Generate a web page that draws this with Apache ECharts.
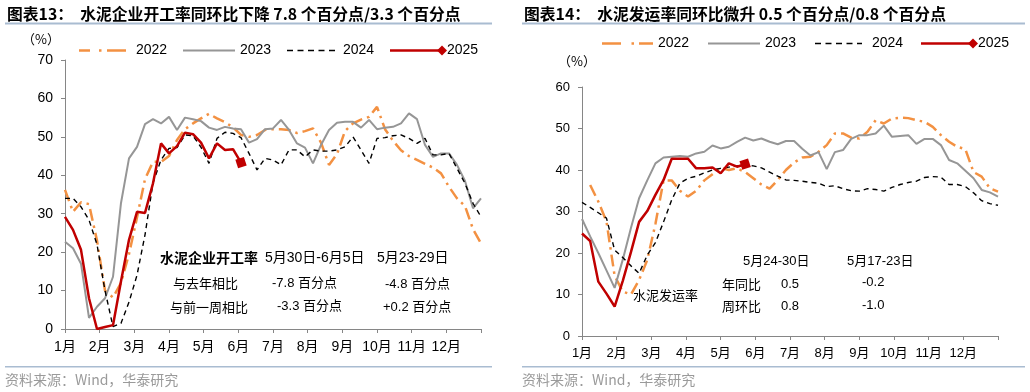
<!DOCTYPE html>
<html><head><meta charset="utf-8">
<script src="https://cdn.jsdelivr.net/npm/echarts@6/dist/echarts.min.js"></script>
<style>html,body{margin:0;padding:0;background:#fff}#c{width:1030px;height:392px}</style>
</head><body><div id="c"></div>
<script>
// ---------- data ----------
const months = ['1月','2月','3月','4月','5月','6月','7月','8月','9月','10月','11月','12月'];
const seriesNames = ['2022','2023','2024','2025'];

// 水泥企业开工率 (weekly, %)
const left2022 = [36.2,30.5,33,32.5,23,10,8.2,12,19.5,29,39,43.5,43.5,45,49.2,52,53.5,54.8,56,54.8,53.8,52.5,50.5,50,50.5,51.8,52,52,51.8,51,51.5,52.2,48.5,42.7,45.5,51.5,53.5,54.5,55.2,57.8,52,49,46.5,45,44,43,42,40.5,37,34,32,26,22.3];
const left2023 = [22.7,21,17,2.9,5.8,8,13.6,32.8,44.4,47.4,53.3,54.6,53.5,55.2,51.8,55,54.6,54.1,52.4,51.8,52.6,52.2,52,48.5,49.4,52,52.2,54.4,51.8,48.3,47.2,43.1,47.9,51.8,53.7,53.9,53.9,52.4,54.4,52,52.4,52.6,53.5,56.1,54.6,47.9,44.8,45.7,45.7,42.7,38.5,31.4,34];
const left2024 = [34,34,31.8,28.4,22,10,0.6,1.5,7,14,24.5,38,44,47,47.2,50.5,50.3,47.3,43.1,49.6,51.2,50.9,49.8,45.7,41.4,44.4,44,42.7,46.6,46.6,44.8,46.6,46.3,46.3,46.6,47.4,50,46.6,43.1,49.6,49.8,50.3,50.5,49.6,48.3,49.6,45.3,45.3,45.7,41.8,37.9,32.7,29.2];
const left2025 = [29.2,25.8,20.6,8,0,0.5,1,12.4,23.2,30.5,30.2,37.9,48.3,45.7,47.6,51.1,50.7,48.5,44.4,48.3,46.6,46.8,43.3];

// 水泥发运率 (weekly, %)
const right2022 = [null,36.4,32.4,27.6,14.5,10.7,10,13.5,18.3,27,37.5,37.5,35,33.6,35,37.5,39,40.5,40,40.4,39.5,38,36.5,35.5,37.6,40,41.8,43,43.2,44.4,46,48.8,48.8,47.8,47.6,49.2,52,51.2,52.4,52.6,52.5,52,51.6,50.4,48.4,46.8,45.6,45,39.5,38.4,35.6,34.8];
const right2023 = [28.2,24,20,15.8,11.6,18.4,26,33.2,37.5,41.6,43,43.2,43.4,43.2,44,44.4,45.9,45.2,45.6,46.8,47.8,47.1,47.6,46.8,46.2,47,47,45.1,43.5,44.3,40.2,44.3,44.8,47.5,48.4,48.4,48.8,50.7,48,48.2,48.4,46.3,47.5,47.5,46,42.4,41.6,39.8,38,35.2,34.6,33.6];
const right2024 = [32.2,31,29.7,28.4,20.7,18.9,16.9,15.1,19.5,22.5,27.5,32.8,36.8,38,38.5,39.3,40,40.4,40.7,41,41.2,41,40.5,39.5,38.5,37.6,37.5,37.3,37,36.8,36,36.2,35.5,35,34.9,35.5,35.3,34.9,35.8,36.5,37,37.3,38.2,38.4,38.3,36.5,36.5,36,34.5,32.6,31.9,31.5];
const right2025 = [24.7,22.9,13.1,10.2,7.1,13.3,20.2,27.5,30.1,34,37.6,42.7,42.7,42.7,40.4,40.4,40.6,39.2,41.6,40.8,41.4];

// ---------- styles ----------
const C22 = '#F39142', C23 = '#969696', C24 = '#000000', C25 = '#C00000';
const AX = '#868686';
const FONT = '"Liberation Sans", Arial, "Noto Sans CJK SC", sans-serif';
const CJK = '"Noto Sans CJK SC", sans-serif';

function toPts(arr, weeks) {
  const out = [];
  arr.forEach((v, i) => { if (v !== null) out.push([i * 12 / weeks, v]); });
  return out;
}

function mkSeries(name, arr, weeks, idx) {
  const base = { name, type: 'line', xAxisIndex: idx, yAxisIndex: idx, data: toPts(arr, weeks),
    symbol: 'none', smooth: false, animation: false, z: 2 };
  if (name === '2022') base.lineStyle = { color: C22, width: 2.5, type: [12, 5, 2.5, 5], cap: 'butt' };
  if (name === '2023') base.lineStyle = { color: C23, width: 2 };
  if (name === '2024') base.lineStyle = { color: C24, width: 1.4, type: [5, 4] };
  if (name === '2025') {
    const last = arr.length - 1;
    base.lineStyle = { color: C25, width: 2.5 };
    base.itemStyle = { color: C25 };
    base.symbol = 'rect';
    base.showSymbol = true;
    base.symbolRotate = 18;
    base.symbolSize = (val, p) => p.dataIndex === last ? 9 : 0;
    base.z = 5;
  }
  return base;
}

function xAx(idx) {
  return { type: 'value', gridIndex: idx, min: 0, max: 12, interval: 1,
    axisLine: { show: true, lineStyle: { color: AX, width: 1 } },
    axisTick: { show: true, length: 4, lineStyle: { color: AX } },
    splitLine: { show: false },
    axisLabel: { formatter: v => (v < 12 ? months[Math.round(v)] : ''), margin: 11,
      fontSize: idx === 0 ? 14 : 13, color: '#000', fontFamily: FONT, showMaxLabel: true } };
}
function yAx(idx, max) {
  return { type: 'value', gridIndex: idx, min: 0, max: max, interval: 10,
    axisLine: { show: true, lineStyle: { color: AX, width: 1 } },
    axisTick: { show: true, length: 4, lineStyle: { color: AX } },
    splitLine: { show: false },
    axisLabel: { margin: 12, fontSize: idx === 0 ? 14 : 13, color: '#000', fontFamily: FONT } };
}

// ---------- graphic helpers ----------
function txt(x, y, s, size, opts) {
  opts = opts || {};
  return { type: 'text', x: x, y: y, z: 10, silent: true,
    style: { text: s, fill: opts.fill || '#000', font: (opts.weight || 'normal') + ' ' + size + 'px ' + (opts.family || FONT),
      textAlign: opts.align || 'left', textVerticalAlign: 'middle' } };
}
function seg(x1, y1, x2, y2, color, w, dash) {
  return { type: 'line', z: 10, silent: true, shape: { x1, y1, x2, y2 },
    style: { stroke: color, lineWidth: w, lineDash: dash || null } };
}
function rect(x, y, w, h, color) {
  return { type: 'rect', z: 10, silent: true, shape: { x, y, width: w, height: h }, style: { fill: color } };
}
function diamond(cx, cy, r, color) {
  return { type: 'polygon', z: 11, silent: true, shape: { points: [[cx - r, cy], [cx, cy - r], [cx + r, cy], [cx, cy + r]] }, style: { fill: color } };
}

const RULE = '#A9BCD1';
const graphics = [
  // titles
  txt(7, 14, '图表13：  水泥企业开工率同环比下降 7.8 个百分点/3.3 个百分点', 15.8, { weight: 'bold', family: CJK }),
  txt(524, 14, '图表14：  水泥发运率同环比微升 0.5 个百分点/0.8 个百分点', 15.8, { weight: 'bold', family: CJK }),
  rect(5, 22.5, 487, 2, RULE),
  rect(522, 22.5, 503, 2, RULE),
  rect(5, 366, 487, 1.5, RULE),
  rect(522, 366, 503, 1.5, RULE),
  txt(5, 380, '资料来源：Wind，华泰研究', 14, { fill: '#9A9A9A', family: CJK }),
  txt(522, 380, '资料来源：Wind，华泰研究', 14, { fill: '#9A9A9A', family: CJK }),
  // unit labels
  txt(41, 39, '（%）', 13, { align: 'center', family: CJK }),
  txt(577, 61, '（%）', 13, { align: 'center', family: CJK }),

  // left legend
  seg(79, 50.5, 90, 50.5, C22, 2.5), seg(99, 50.5, 101.5, 50.5, C22, 2.5), seg(107, 50.5, 126, 50.5, C22, 2.5),
  txt(136, 50.5, seriesNames[0], 14),
  seg(183, 50.5, 235, 50.5, C23, 2),
  txt(240, 50.5, seriesNames[1], 14),
  seg(287, 50.5, 335, 50.5, C24, 1.5, [6, 4.5]),
  txt(343, 50.5, seriesNames[2], 14),
  seg(390, 50.5, 440, 50.5, C25, 2.5), diamond(442, 50.5, 5, C25),
  txt(447, 50.5, seriesNames[3], 14),

  // right legend
  seg(602, 43.5, 621, 43.5, C22, 2.5), seg(631.5, 43.5, 634, 43.5, C22, 2.5), seg(639, 43.5, 653, 43.5, C22, 2.5),
  txt(658, 43.5, seriesNames[0], 14),
  seg(708, 43.5, 760, 43.5, C23, 2),
  txt(765, 43.5, seriesNames[1], 14),
  seg(815, 43.5, 862, 43.5, C24, 1.5, [6, 4.5]),
  txt(872, 43.5, seriesNames[2], 14),
  seg(921, 43.5, 970, 43.5, C25, 2.5), diamond(973, 43.5, 5, C25),
  txt(978, 43.5, seriesNames[3], 14),

  // left annotation table
  txt(160, 258, '水泥企业开工率', 14, { family: CJK, weight: 'bold' }),
  txt(265, 258, '5月30日-6月5日', 14),
  txt(377, 258, '5月23-29日', 14),
  txt(173, 283, '与去年相比', 13, { family: CJK }),
  txt(272, 283, '-7.8 百分点', 13),
  txt(385, 284, '-4.8 百分点', 13),
  txt(170, 307, '与前一周相比', 13, { family: CJK }),
  txt(277, 306, '-3.3 百分点', 13),
  txt(383, 307, '+0.2 百分点', 13),

  // right annotation table
  txt(743, 261, '5月24-30日', 13),
  txt(847, 261, '5月17-23日', 13),
  txt(722, 284, '年同比', 13, { family: CJK }),
  txt(781, 284, '0.5', 13),
  txt(862, 282, '-0.2', 13),
  txt(722, 306, '周环比', 13, { family: CJK }),
  txt(781, 306, '0.8', 13),
  txt(862, 305, '-1.0', 13),
  txt(633, 295, '水泥发运率', 13, { family: CJK })
];

const chart = echarts.init(document.getElementById('c'), null, { renderer: 'canvas' });
chart.setOption({
  backgroundColor: '#fff',
  animation: false,
  grid: [
    { left: 65, top: 60, width: 416, height: 269 },
    { left: 582, top: 87, width: 416, height: 249 }
  ],
  xAxis: [xAx(0), xAx(1)],
  yAxis: [yAx(0, 70), yAx(1, 60)],
  series: [
    mkSeries('2022', left2022, left2022.length - 1, 0),
    mkSeries('2023', left2023, left2023.length - 1, 0),
    mkSeries('2024', left2024, left2024.length - 1, 0),
    mkSeries('2025', left2025, left2022.length - 1, 0),
    mkSeries('2022', right2022, right2022.length - 1, 1),
    mkSeries('2023', right2023, right2023.length - 1, 1),
    mkSeries('2024', right2024, right2024.length - 1, 1),
    mkSeries('2025', right2025, right2022.length - 1, 1)
  ],
  graphic: graphics
});
</script>
</body></html>
